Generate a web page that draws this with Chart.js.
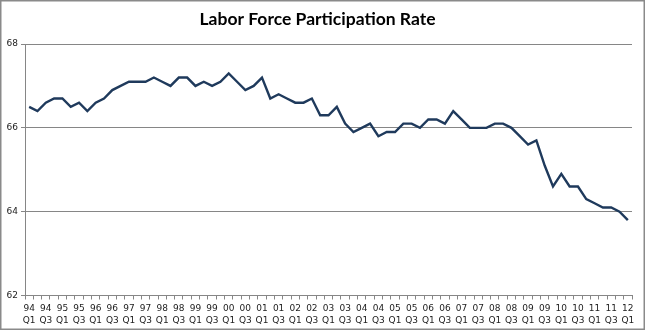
<!DOCTYPE html>
<html>
<head>
<meta charset="utf-8">
<script src="https://cdn.jsdelivr.net/npm/chart.js@4"></script>
<style>
  html, body { margin: 0; padding: 0; background: #fff; }
  #wrap { width: 646px; height: 332px; position: relative; }
</style>
</head>
<body>
<div id="wrap"><canvas id="c" width="646" height="332"></canvas></div>
<script>
const years = ['94','95','96','97','98','99','00','01','02','03','04','05','06','07','08','09','10','11','12'];
const quarters = ['Q1','Q2','Q3','Q4'];
const categories = [];
years.forEach(function (y, i) {
  quarters.forEach(function (q, j) {
    if (i < years.length - 1 || j === 0) categories.push(y + ' ' + q);
  });
});

const participationRate = [
  66.5, 66.4, 66.6, 66.7,   // 94
  66.7, 66.5, 66.6, 66.4,   // 95
  66.6, 66.7, 66.9, 67.0,   // 96
  67.1, 67.1, 67.1, 67.2,   // 97
  67.1, 67.0, 67.2, 67.2,   // 98
  67.0, 67.1, 67.0, 67.1,   // 99
  67.3, 67.1, 66.9, 67.0,   // 00
  67.2, 66.7, 66.8, 66.7,   // 01
  66.6, 66.6, 66.7, 66.3,   // 02
  66.3, 66.5, 66.1, 65.9,   // 03
  66.0, 66.1, 65.8, 65.9,   // 04
  65.9, 66.1, 66.1, 66.0,   // 05
  66.2, 66.2, 66.1, 66.4,   // 06
  66.2, 66.0, 66.0, 66.0,   // 07
  66.1, 66.1, 66.0, 65.8,   // 08
  65.6, 65.7, 65.1, 64.6,   // 09
  64.9, 64.6, 64.6, 64.3,   // 10
  64.2, 64.1, 64.1, 64.0,   // 11
  63.8                      // 12
];

const yTicks = [62, 64, 66, 68];
const titleText = 'Labor Force Participation Rate';

const frame = {
  id: 'frame',
  beforeDraw(chart) {
    const ctx = chart.ctx;
    ctx.save();
    ctx.fillStyle = '#ffffff';
    ctx.fillRect(0, 0, chart.width, chart.height);
    ctx.restore();
  },
  afterDraw(chart) {
    const ctx = chart.ctx;
    ctx.save();
    ctx.strokeStyle = '#8a8a8a';
    ctx.lineWidth = 1.5;
    ctx.strokeRect(0.75, 0.75, 643.5, 328.5);
    ctx.restore();
  }
};

new Chart(document.getElementById('c'), {
  type: 'line',
  data: {
    labels: categories,
    datasets: [{
      data: participationRate,
      borderColor: '#1f3a5c',
      borderWidth: 2.4,
      pointRadius: 0,
      tension: 0,
      fill: false
    }]
  },
  options: {
    responsive: false,
    animation: false,
    layout: { padding: { top: 9, left: 3, right: 14, bottom: 2 } },
    plugins: {
      legend: { display: false },
      tooltip: { enabled: false },
      title: {
        display: true,
        text: titleText,
        color: '#000000',
        font: { family: 'Lato', size: 17.5, weight: 'bold', lineHeight: 1.2 },
        padding: { top: 0, bottom: 14 }
      }
    },
    scales: {
      x: {
        type: 'category',
        offset: true,
        border: { display: true, color: '#868686', width: 1 },
        grid: { offset: true, drawOnChartArea: false, drawTicks: true, tickLength: 4, color: '#868686' },
        ticks: {
          autoSkip: false,
          maxRotation: 0,
          minRotation: 0,
          padding: 4,
          color: '#222222',
          font: { family: 'DejaVu Sans', size: 9, lineHeight: 1.25 },
          callback: function (value, index) {
            if (index % 2 !== 0) return '';
            return categories[index].split(' ');
          }
        }
      },
      y: {
        min: 62,
        max: 68,
        afterBuildTicks: function (scale) {
          scale.ticks = yTicks.map(function (v) { return { value: v }; });
        },
        afterFit: function (scale) { scale.width = 22; },
        border: { display: true, color: '#868686', width: 1 },
        grid: { color: '#868686', lineWidth: 1, drawTicks: true, tickLength: 4 },
        ticks: {
          padding: 3,
          color: '#222222',
          font: { family: 'DejaVu Sans', size: 9 }
        }
      }
    }
  },
  plugins: [frame]
});
</script>
</body>
</html>
